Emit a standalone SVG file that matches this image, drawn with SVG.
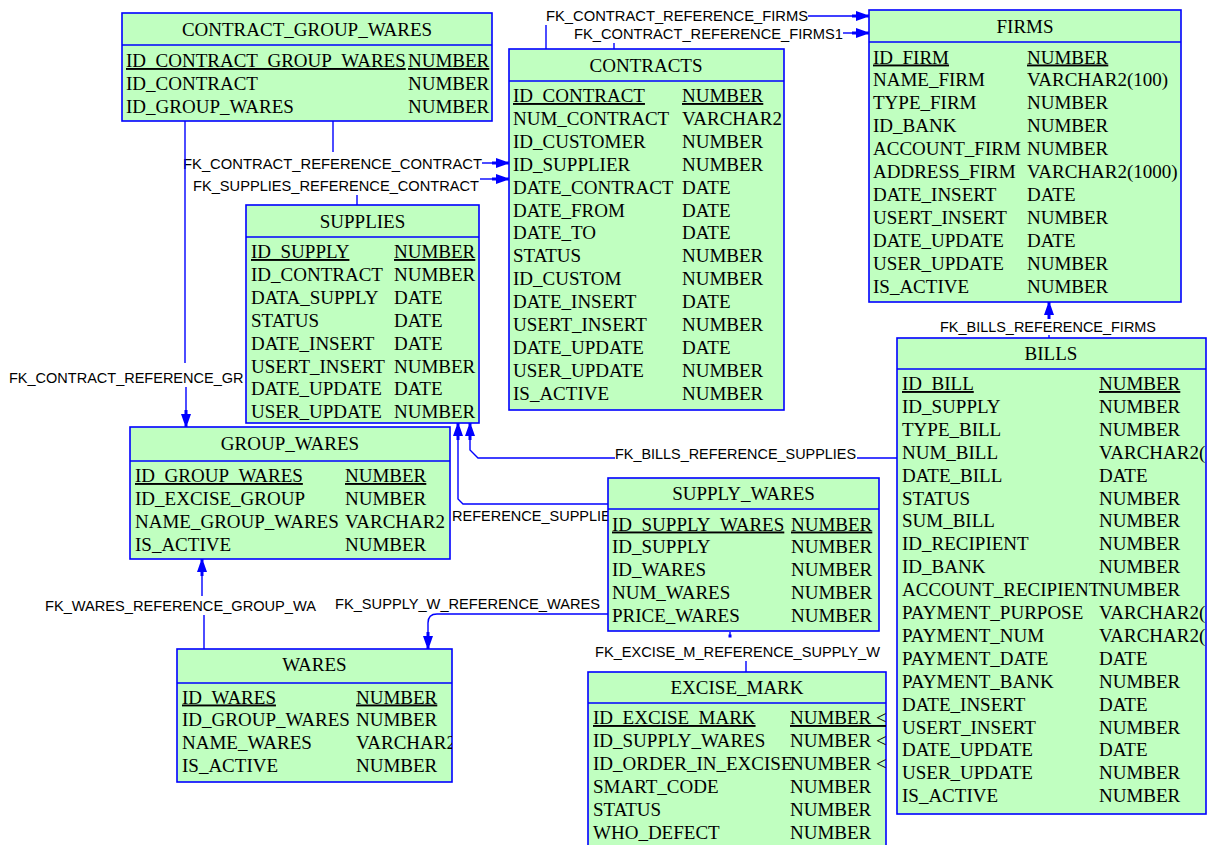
<svg xmlns="http://www.w3.org/2000/svg" width="1208" height="845" viewBox="0 0 1208 845">
<style>
.box{fill:#C0FFC0;stroke:#0000FF;stroke-width:1.6}
.div{stroke:#0000FF;stroke-width:1.6}
.t{font-family:"Liberation Serif","Times New Roman",serif;font-size:19px;fill:#000;text-anchor:middle}
.c{font-family:"Liberation Serif","Times New Roman",serif;font-size:19px;fill:#000}
.pk{text-decoration:underline}
.lbl{font-family:"Liberation Sans",Arial,sans-serif;font-size:14.5px;fill:#000}
.ln{fill:none;stroke:#0000FF;stroke-width:1.4}
.ar{marker-end:url(#arr)}
</style>
<defs>
<marker id="arr" viewBox="0 -5.5 17 11" refX="17" refY="0" markerWidth="17" markerHeight="11" markerUnits="userSpaceOnUse" orient="auto">
<path d="M0,-1.5 L4,-1.5 L4,-5 L14,-1.5 L17,-1.5 L17,1.5 L14,1.5 L4,5 L4,1.5 L0,1.5 Z" fill="#0000FF"/>
</marker>
<clipPath id="cCGW"><rect x="122" y="13" width="370" height="108"/></clipPath>
<clipPath id="cCON"><rect x="509" y="49" width="275" height="361"/></clipPath>
<clipPath id="cFIR"><rect x="869" y="10" width="312" height="292"/></clipPath>
<clipPath id="cSUP"><rect x="246" y="205" width="233" height="218"/></clipPath>
<clipPath id="cGW"><rect x="130" y="427" width="320" height="132"/></clipPath>
<clipPath id="cSW"><rect x="608" y="478" width="271" height="153"/></clipPath>
<clipPath id="cWAR"><rect x="177" y="649" width="275" height="133"/></clipPath>
<clipPath id="cEX"><rect x="588" y="672" width="298" height="180"/></clipPath>
<clipPath id="cBIL"><rect x="897" y="338" width="309" height="476"/></clipPath>
</defs>
<rect width="1208" height="845" fill="#FFFFFF"/>

<g id="connectors">
<path class="ln" d="M546,49 V25"/>
<path class="ln ar" d="M808,16 H869"/>
<text class="lbl" x="546" y="21" textLength="262" lengthAdjust="spacingAndGlyphs">FK_CONTRACT_REFERENCE_FIRMS</text>
<path class="ln" d="M614,49 V43"/>
<path class="ln ar" d="M843,33 H869"/>
<text class="lbl" x="574" y="39" textLength="269" lengthAdjust="spacingAndGlyphs">FK_CONTRACT_REFERENCE_FIRMS1</text>
<path class="ln" d="M333,121 V152"/>
<path class="ln ar" d="M482,163 H509"/>
<text class="lbl" x="183" y="168.5" textLength="299" lengthAdjust="spacingAndGlyphs">FK_CONTRACT_REFERENCE_CONTRACT</text>
<path class="ln" d="M357,205 V195"/>
<path class="ln ar" d="M480,179 H509"/>
<text class="lbl" x="193" y="190.5" textLength="286" lengthAdjust="spacingAndGlyphs">FK_SUPPLIES_REFERENCE_CONTRACT</text>
<path class="ln" d="M185,121 V363"/>
<path class="ln ar" d="M186,387 V427"/>
<text class="lbl" x="9" y="382.5">FK_CONTRACT_REFERENCE_GR</text>
<path class="ln" d="M1049,338 V335"/>
<path class="ln ar" d="M1049,319 V302"/>
<text class="lbl" x="940" y="332" textLength="216" lengthAdjust="spacingAndGlyphs">FK_BILLS_REFERENCE_FIRMS</text>
<path class="ln" d="M897,458 H857"/>
<path class="ln ar" d="M615,458 H478 L470,450 V423"/>
<text class="lbl" x="615" y="458.5" textLength="241" lengthAdjust="spacingAndGlyphs">FK_BILLS_REFERENCE_SUPPLIES</text>
<path class="ln ar" d="M608,504 H463 L458,499 V423"/>
<text class="lbl" x="452" y="521">REFERENCE_SUPPLIE</text>
<path class="ln" d="M204,649 V615"/>
<path class="ln ar" d="M202,596 V559"/>
<text class="lbl" x="45" y="610.5" textLength="271" lengthAdjust="spacingAndGlyphs">FK_WARES_REFERENCE_GROUP_WA</text>
<path class="ln ar" d="M608,614 H437 Q428,614 428,623 V649"/>
<text class="lbl" x="335" y="609" textLength="265" lengthAdjust="spacingAndGlyphs">FK_SUPPLY_W_REFERENCE_WARES</text>
<path class="ln" d="M746,672 V661"/>
<path class="ln" d="M730,632 V636"/>
<rect x="728.5" y="634.5" width="3" height="3" fill="#0000FF"/>
<text class="lbl" x="595" y="656.5" textLength="285" lengthAdjust="spacingAndGlyphs">FK_EXCISE_M_REFERENCE_SUPPLY_W</text>
</g>

<g id="CONTRACT_GROUP_WARES">
<rect class="box" x="122" y="13" width="370" height="108"/>
<line class="div" x1="122" y1="45" x2="492" y2="45"/>
<text class="t" x="307" y="36">CONTRACT_GROUP_WARES</text>
<g clip-path="url(#cCGW)">
<text class="c pk" x="126" y="67">ID_CONTRACT_GROUP_WARES</text><text class="c pk" x="408" y="67">NUMBER</text>
<text class="c" x="126" y="89.9">ID_CONTRACT</text><text class="c" x="408" y="89.9">NUMBER</text>
<text class="c" x="126" y="112.8">ID_GROUP_WARES</text><text class="c" x="408" y="112.8">NUMBER</text>
</g>
</g>

<g id="CONTRACTS">
<rect class="box" x="509" y="49" width="275" height="361"/>
<line class="div" x1="509" y1="81" x2="784" y2="81"/>
<text class="t" x="646" y="72">CONTRACTS</text>
<g clip-path="url(#cCON)">
<text class="c pk" x="513" y="102">ID_CONTRACT</text><text class="c pk" x="682" y="102">NUMBER</text>
<text class="c" x="513" y="124.9">NUM_CONTRACT</text><text class="c" x="682" y="124.9">VARCHAR2</text>
<text class="c" x="513" y="147.8">ID_CUSTOMER</text><text class="c" x="682" y="147.8">NUMBER</text>
<text class="c" x="513" y="170.7">ID_SUPPLIER</text><text class="c" x="682" y="170.7">NUMBER</text>
<text class="c" x="513" y="193.6">DATE_CONTRACT</text><text class="c" x="682" y="193.6">DATE</text>
<text class="c" x="513" y="216.5">DATE_FROM</text><text class="c" x="682" y="216.5">DATE</text>
<text class="c" x="513" y="239.4">DATE_TO</text><text class="c" x="682" y="239.4">DATE</text>
<text class="c" x="513" y="262.3">STATUS</text><text class="c" x="682" y="262.3">NUMBER</text>
<text class="c" x="513" y="285.2">ID_CUSTOM</text><text class="c" x="682" y="285.2">NUMBER</text>
<text class="c" x="513" y="308.1">DATE_INSERT</text><text class="c" x="682" y="308.1">DATE</text>
<text class="c" x="513" y="331">USERT_INSERT</text><text class="c" x="682" y="331">NUMBER</text>
<text class="c" x="513" y="353.9">DATE_UPDATE</text><text class="c" x="682" y="353.9">DATE</text>
<text class="c" x="513" y="376.8">USER_UPDATE</text><text class="c" x="682" y="376.8">NUMBER</text>
<text class="c" x="513" y="399.7">IS_ACTIVE</text><text class="c" x="682" y="399.7">NUMBER</text>
</g>
</g>

<g id="FIRMS">
<rect class="box" x="869" y="10" width="312" height="292"/>
<line class="div" x1="869" y1="42" x2="1181" y2="42"/>
<text class="t" x="1025" y="33">FIRMS</text>
<g clip-path="url(#cFIR)">
<text class="c pk" x="873" y="63.5">ID_FIRM</text><text class="c pk" x="1027" y="63.5">NUMBER</text>
<text class="c" x="873" y="86.4">NAME_FIRM</text><text class="c" x="1027" y="86.4">VARCHAR2(100)</text>
<text class="c" x="873" y="109.3">TYPE_FIRM</text><text class="c" x="1027" y="109.3">NUMBER</text>
<text class="c" x="873" y="132.2">ID_BANK</text><text class="c" x="1027" y="132.2">NUMBER</text>
<text class="c" x="873" y="155.1">ACCOUNT_FIRM</text><text class="c" x="1027" y="155.1">NUMBER</text>
<text class="c" x="873" y="178">ADDRESS_FIRM</text><text class="c" x="1027" y="178">VARCHAR2(1000)</text>
<text class="c" x="873" y="200.9">DATE_INSERT</text><text class="c" x="1027" y="200.9">DATE</text>
<text class="c" x="873" y="223.8">USERT_INSERT</text><text class="c" x="1027" y="223.8">NUMBER</text>
<text class="c" x="873" y="246.7">DATE_UPDATE</text><text class="c" x="1027" y="246.7">DATE</text>
<text class="c" x="873" y="269.6">USER_UPDATE</text><text class="c" x="1027" y="269.6">NUMBER</text>
<text class="c" x="873" y="292.5">IS_ACTIVE</text><text class="c" x="1027" y="292.5">NUMBER</text>
</g>
</g>

<g id="SUPPLIES">
<rect class="box" x="246" y="205" width="233" height="218"/>
<line class="div" x1="246" y1="237" x2="479" y2="237"/>
<text class="t" x="362.5" y="228">SUPPLIES</text>
<g clip-path="url(#cSUP)">
<text class="c pk" x="251" y="258">ID_SUPPLY</text><text class="c pk" x="394" y="258">NUMBER</text>
<text class="c" x="251" y="280.9">ID_CONTRACT</text><text class="c" x="394" y="280.9">NUMBER</text>
<text class="c" x="251" y="303.8">DATA_SUPPLY</text><text class="c" x="394" y="303.8">DATE</text>
<text class="c" x="251" y="326.7">STATUS</text><text class="c" x="394" y="326.7">DATE</text>
<text class="c" x="251" y="349.6">DATE_INSERT</text><text class="c" x="394" y="349.6">DATE</text>
<text class="c" x="251" y="372.5">USERT_INSERT</text><text class="c" x="394" y="372.5">NUMBER</text>
<text class="c" x="251" y="395.4">DATE_UPDATE</text><text class="c" x="394" y="395.4">DATE</text>
<text class="c" x="251" y="418.3">USER_UPDATE</text><text class="c" x="394" y="418.3">NUMBER</text>
</g>
</g>

<g id="GROUP_WARES">
<rect class="box" x="130" y="427" width="320" height="132"/>
<line class="div" x1="130" y1="461" x2="450" y2="461"/>
<text class="t" x="290" y="449.5">GROUP_WARES</text>
<g clip-path="url(#cGW)">
<text class="c pk" x="135" y="482">ID_GROUP_WARES</text><text class="c pk" x="345" y="482">NUMBER</text>
<text class="c" x="135" y="504.9">ID_EXCISE_GROUP</text><text class="c" x="345" y="504.9">NUMBER</text>
<text class="c" x="135" y="527.8">NAME_GROUP_WARES</text><text class="c" x="345" y="527.8">VARCHAR2</text>
<text class="c" x="135" y="550.7">IS_ACTIVE</text><text class="c" x="345" y="550.7">NUMBER</text>
</g>
</g>

<g id="SUPPLY_WARES">
<rect class="box" x="608" y="478" width="271" height="153"/>
<line class="div" x1="608" y1="509" x2="879" y2="509"/>
<text class="t" x="743.5" y="500">SUPPLY_WARES</text>
<g clip-path="url(#cSW)">
<text class="c pk" x="612" y="530.5">ID_SUPPLY_WARES</text><text class="c pk" x="791" y="530.5">NUMBER</text>
<text class="c" x="612" y="553.4">ID_SUPPLY</text><text class="c" x="791" y="553.4">NUMBER</text>
<text class="c" x="612" y="576.3">ID_WARES</text><text class="c" x="791" y="576.3">NUMBER</text>
<text class="c" x="612" y="599.2">NUM_WARES</text><text class="c" x="791" y="599.2">NUMBER</text>
<text class="c" x="612" y="622.1">PRICE_WARES</text><text class="c" x="791" y="622.1">NUMBER</text>
</g>
</g>

<g id="WARES">
<rect class="box" x="177" y="649" width="275" height="133"/>
<line class="div" x1="177" y1="683" x2="452" y2="683"/>
<text class="t" x="314.5" y="671">WARES</text>
<g clip-path="url(#cWAR)">
<text class="c pk" x="182" y="703.5">ID_WARES</text><text class="c pk" x="356" y="703.5">NUMBER</text>
<text class="c" x="182" y="726.4">ID_GROUP_WARES</text><text class="c" x="356" y="726.4">NUMBER</text>
<text class="c" x="182" y="749.3">NAME_WARES</text><text class="c" x="356" y="749.3">VARCHAR2</text>
<text class="c" x="182" y="772.2">IS_ACTIVE</text><text class="c" x="356" y="772.2">NUMBER</text>
</g>
</g>

<g id="EXCISE_MARK">
<rect class="box" x="588" y="672" width="298" height="180"/>
<line class="div" x1="588" y1="703" x2="886" y2="703"/>
<text class="t" x="737" y="693.5">EXCISE_MARK</text>
<g clip-path="url(#cEX)">
<text class="c pk" x="593" y="724">ID_EXCISE_MARK</text><text class="c pk" x="790" y="724">NUMBER &lt;</text>
<text class="c" x="593" y="746.9">ID_SUPPLY_WARES</text><text class="c" x="790" y="746.9">NUMBER &lt;</text>
<text class="c" x="593" y="769.8">ID_ORDER_IN_EXCISE</text><text class="c" x="790" y="769.8">NUMBER &lt;</text>
<text class="c" x="593" y="792.7">SMART_CODE</text><text class="c" x="790" y="792.7">NUMBER</text>
<text class="c" x="593" y="815.6">STATUS</text><text class="c" x="790" y="815.6">NUMBER</text>
<text class="c" x="593" y="838.5">WHO_DEFECT</text><text class="c" x="790" y="838.5">NUMBER</text>
</g>
</g>

<g id="BILLS">
<rect class="box" x="897" y="338" width="309" height="476"/>
<line class="div" x1="897" y1="369" x2="1206" y2="369"/>
<text class="t" x="1051" y="360">BILLS</text>
<g clip-path="url(#cBIL)">
<text class="c pk" x="902" y="390">ID_BILL</text><text class="c pk" x="1099" y="390">NUMBER</text>
<text class="c" x="902" y="412.9">ID_SUPPLY</text><text class="c" x="1099" y="412.9">NUMBER</text>
<text class="c" x="902" y="435.8">TYPE_BILL</text><text class="c" x="1099" y="435.8">NUMBER</text>
<text class="c" x="902" y="458.7">NUM_BILL</text><text class="c" x="1099" y="458.7">VARCHAR2(</text>
<text class="c" x="902" y="481.6">DATE_BILL</text><text class="c" x="1099" y="481.6">DATE</text>
<text class="c" x="902" y="504.5">STATUS</text><text class="c" x="1099" y="504.5">NUMBER</text>
<text class="c" x="902" y="527.4">SUM_BILL</text><text class="c" x="1099" y="527.4">NUMBER</text>
<text class="c" x="902" y="550.3">ID_RECIPIENT</text><text class="c" x="1099" y="550.3">NUMBER</text>
<text class="c" x="902" y="573.2">ID_BANK</text><text class="c" x="1099" y="573.2">NUMBER</text>
<text class="c" x="902" y="596.1">ACCOUNT_RECIPIENT</text><text class="c" x="1099" y="596.1">NUMBER</text>
<text class="c" x="902" y="619">PAYMENT_PURPOSE</text><text class="c" x="1099" y="619">VARCHAR2(</text>
<text class="c" x="902" y="641.9">PAYMENT_NUM</text><text class="c" x="1099" y="641.9">VARCHAR2(</text>
<text class="c" x="902" y="664.8">PAYMENT_DATE</text><text class="c" x="1099" y="664.8">DATE</text>
<text class="c" x="902" y="687.7">PAYMENT_BANK</text><text class="c" x="1099" y="687.7">NUMBER</text>
<text class="c" x="902" y="710.6">DATE_INSERT</text><text class="c" x="1099" y="710.6">DATE</text>
<text class="c" x="902" y="733.5">USERT_INSERT</text><text class="c" x="1099" y="733.5">NUMBER</text>
<text class="c" x="902" y="756.4">DATE_UPDATE</text><text class="c" x="1099" y="756.4">DATE</text>
<text class="c" x="902" y="779.3">USER_UPDATE</text><text class="c" x="1099" y="779.3">NUMBER</text>
<text class="c" x="902" y="802.2">IS_ACTIVE</text><text class="c" x="1099" y="802.2">NUMBER</text>
</g>
</g>
</svg>
